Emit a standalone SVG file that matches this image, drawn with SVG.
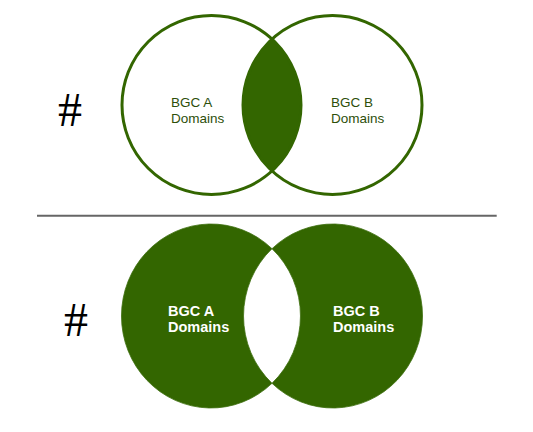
<svg xmlns="http://www.w3.org/2000/svg" width="533" height="432" viewBox="0 0 533 432">
<style>
.ring{fill:none;stroke:#336600;stroke-width:3}
.solid{fill:#336600;stroke:#3f7010;stroke-width:0.8}
.lt{font-family:"Liberation Sans",Arial,sans-serif;font-size:13.5px;fill:#2d4f0a}
.wt{font-family:"Liberation Sans",Arial,sans-serif;font-size:14.5px;font-weight:bold;fill:#ffffff}
.hash{font-family:"Liberation Serif","Times New Roman",serif;font-size:48px;fill:#000000}
</style>
<rect width="533" height="432" fill="#ffffff"/>
<g id="hash-top"><text class="hash" x="58" y="125.5">#</text></g>
<g id="hash-bottom"><text class="hash" x="64" y="335.5">#</text></g>
<g id="top-intersection">
<path d="M272 39 A89.5 89.5 0 0 1 272 171 A89.5 89.5 0 0 1 272 39 Z" fill="#336600"/>
</g>
<g id="top-bgc-a">
<circle class="ring" cx="211.5" cy="105" r="89.5"/>
<text class="lt" x="171" y="107">BGC A</text>
<text class="lt" x="171" y="122.5">Domains</text>
</g>
<g id="top-bgc-b">
<circle class="ring" cx="332.5" cy="105" r="89.5"/>
<text class="lt" x="331" y="107">BGC B</text>
<text class="lt" x="331" y="122.5">Domains</text>
</g>
<g id="connectors">
<line x1="37" y1="215.8" x2="496.7" y2="215.8" stroke="#666666" stroke-width="2"/>
</g>
<g id="bottom-bgc-a">
<path class="solid" d="M272 248.7 A89.5 92 0 1 0 272 383.3 A89.5 92 0 0 1 272 248.7 Z"/>
<text class="wt" x="168" y="315.7">BGC A</text>
<text class="wt" x="168" y="331.7">Domains</text>
</g>
<g id="bottom-bgc-b">
<path class="solid" d="M272 248.7 A89.5 92 0 1 1 272 383.3 A89.5 92 0 0 0 272 248.7 Z"/>
<text class="wt" x="333" y="315.7">BGC B</text>
<text class="wt" x="333" y="331.7">Domains</text>
</g>
</svg>
